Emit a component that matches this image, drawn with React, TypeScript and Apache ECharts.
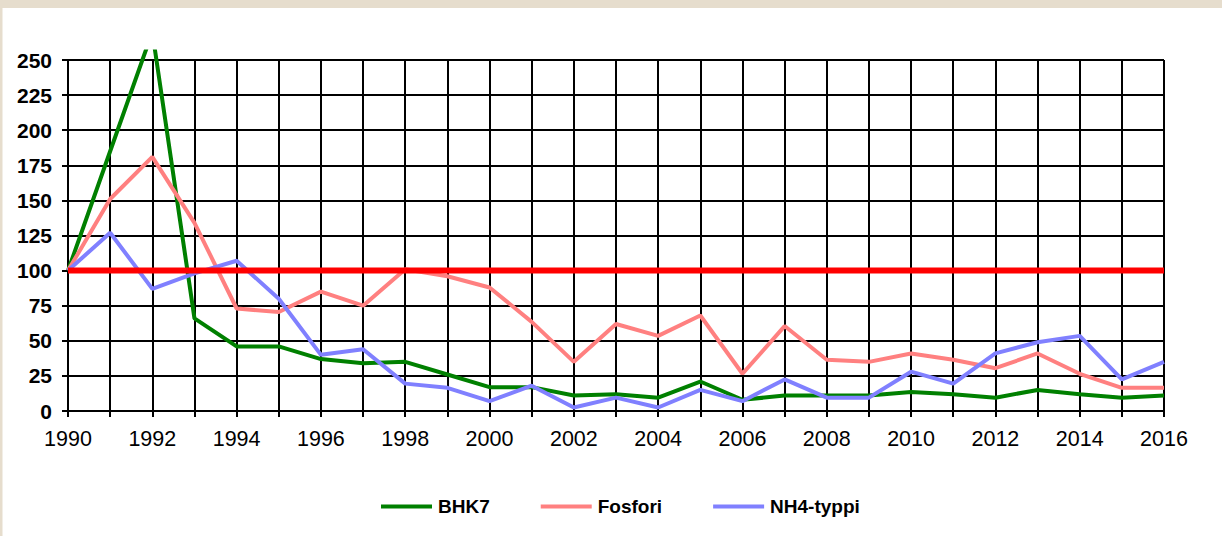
import React, { useEffect, useRef } from "react";
import * as echarts from "echarts";

const years = [
  "1990", "1991", "1992", "1993", "1994", "1995", "1996", "1997", "1998", "1999",
  "2000", "2001", "2002", "2003", "2004", "2005", "2006", "2007", "2008", "2009",
  "2010", "2011", "2012", "2013", "2014", "2015", "2016",
];
const bhk7 = [100, 185, 270, 66, 46, 46, 37, 34, 35, 26, 17, 17, 11, 12, 9.5, 21, 8, 11, 11, 11, 13.5, 12, 9.5, 15, 12, 9.5, 11];
const fosfori = [100, 151, 181, 134, 73, 70.5, 85, 75, 101, 96, 88, 63.5, 35, 62, 53.5, 68, 26.5, 60.5, 36.5, 35, 41, 36.5, 30.5, 41, 26.5, 16.5, 16.5];
const nh4 = [100, 127, 87, 98, 107, 80, 40, 44, 19.5, 16.5, 7, 18, 2.5, 9.5, 2.5, 15, 7, 22.5, 9.5, 9.5, 28, 19.5, 41, 49, 53.5, 22.5, 35];
const limit = years.map(() => 100);
const seriesNames = ["BHK7", "Fosfori", "NH4-typpi"];

const FONT = '"Liberation Sans", Arial, Helvetica, sans-serif';

export default function App() {
  const ref = useRef<HTMLDivElement>(null);
  useEffect(() => {
    if (!ref.current) return;
    const chart = echarts.init(ref.current, null, { renderer: "svg" });
    const gridLeft = 68;
    const gridRight = 58;
    const gridBottom = 125;
    const axisTop = 60;
    const plotTop = 51.5;
    const H = 536;
    const yMax = 250;
    const plotMax = (yMax * (H - gridBottom - plotTop)) / (H - gridBottom - axisTop);

    chart.setOption({
      animation: false,
      backgroundColor: "#ffffff",
      textStyle: { fontFamily: FONT },
      graphic: [
        { type: "rect", left: 0, top: 0, shape: { width: 1222, height: 8 }, style: { fill: "#e6ddcd" }, z: 100 },
        { type: "rect", left: 0, top: 0, shape: { width: 2.5, height: 536 }, style: { fill: "#e6ddcd" }, z: 100 },
      ],
      legend: {
        data: seriesNames,
        left: 381,
        top: 497,
        padding: 0,
        icon: "rect",
        itemWidth: 51,
        itemHeight: 4,
        itemGap: 51,
        textStyle: { fontFamily: FONT, fontWeight: "bold", fontSize: 19, color: "#000", padding: [0, 0, 0, 1] },
      },
      grid: [
        { left: gridLeft, right: gridRight, top: axisTop, bottom: gridBottom, containLabel: false },
        { left: gridLeft, right: gridRight, top: plotTop, bottom: gridBottom, containLabel: false },
      ],
      xAxis: [
        {
          gridIndex: 0,
          type: "category",
          data: years,
          boundaryGap: false,
          axisLine: { show: true, lineStyle: { color: "#000", width: 2 } },
          axisTick: { show: true, interval: 0, length: 6, lineStyle: { color: "#000", width: 2 } },
          axisLabel: { interval: 1, margin: 17, fontFamily: FONT, fontSize: 21.5, color: "#000" },
          splitLine: { show: true, interval: 0, lineStyle: { color: "#000", width: 2 } },
        },
        {
          gridIndex: 1,
          type: "category",
          data: years,
          boundaryGap: false,
          show: false,
        },
      ],
      yAxis: [
        {
          gridIndex: 0,
          type: "value",
          min: 0,
          max: yMax,
          interval: 25,
          axisLine: { show: true, lineStyle: { color: "#000", width: 2 } },
          axisTick: { show: true, length: 6, lineStyle: { color: "#000", width: 2 } },
          axisLabel: { margin: 16, fontFamily: FONT, fontSize: 21, fontWeight: "bold", color: "#000" },
          splitLine: { show: true, lineStyle: { color: "#000", width: 2 } },
        },
        {
          gridIndex: 1,
          type: "value",
          min: 0,
          max: plotMax,
          show: false,
          splitLine: { show: false },
        },
      ],
      series: [
        {
          name: "BHK7",
          type: "line",
          xAxisIndex: 1,
          yAxisIndex: 1,
          data: bhk7,
          showSymbol: false,
          symbol: "none",
          color: "#008000",
          lineStyle: { color: "#008000", width: 4 },
        },
        {
          name: "Fosfori",
          type: "line",
          xAxisIndex: 1,
          yAxisIndex: 1,
          data: fosfori,
          showSymbol: false,
          symbol: "none",
          color: "#ff8080",
          lineStyle: { color: "#ff8080", width: 4 },
        },
        {
          name: "NH4-typpi",
          type: "line",
          xAxisIndex: 1,
          yAxisIndex: 1,
          data: nh4,
          showSymbol: false,
          symbol: "none",
          color: "#8080ff",
          lineStyle: { color: "#8080ff", width: 4 },
        },
        {
          name: "Raja",
          type: "line",
          xAxisIndex: 1,
          yAxisIndex: 1,
          data: limit,
          showSymbol: false,
          symbol: "none",
          color: "#ff0000",
          lineStyle: { color: "#ff0000", width: 6 },
        },
      ],
    });
    return () => chart.dispose();
  }, []);
  return (
    <div
      ref={ref}
      style={{ position: "absolute", left: 0, top: 0, width: 1222, height: 536 }}
    />
  );
}
